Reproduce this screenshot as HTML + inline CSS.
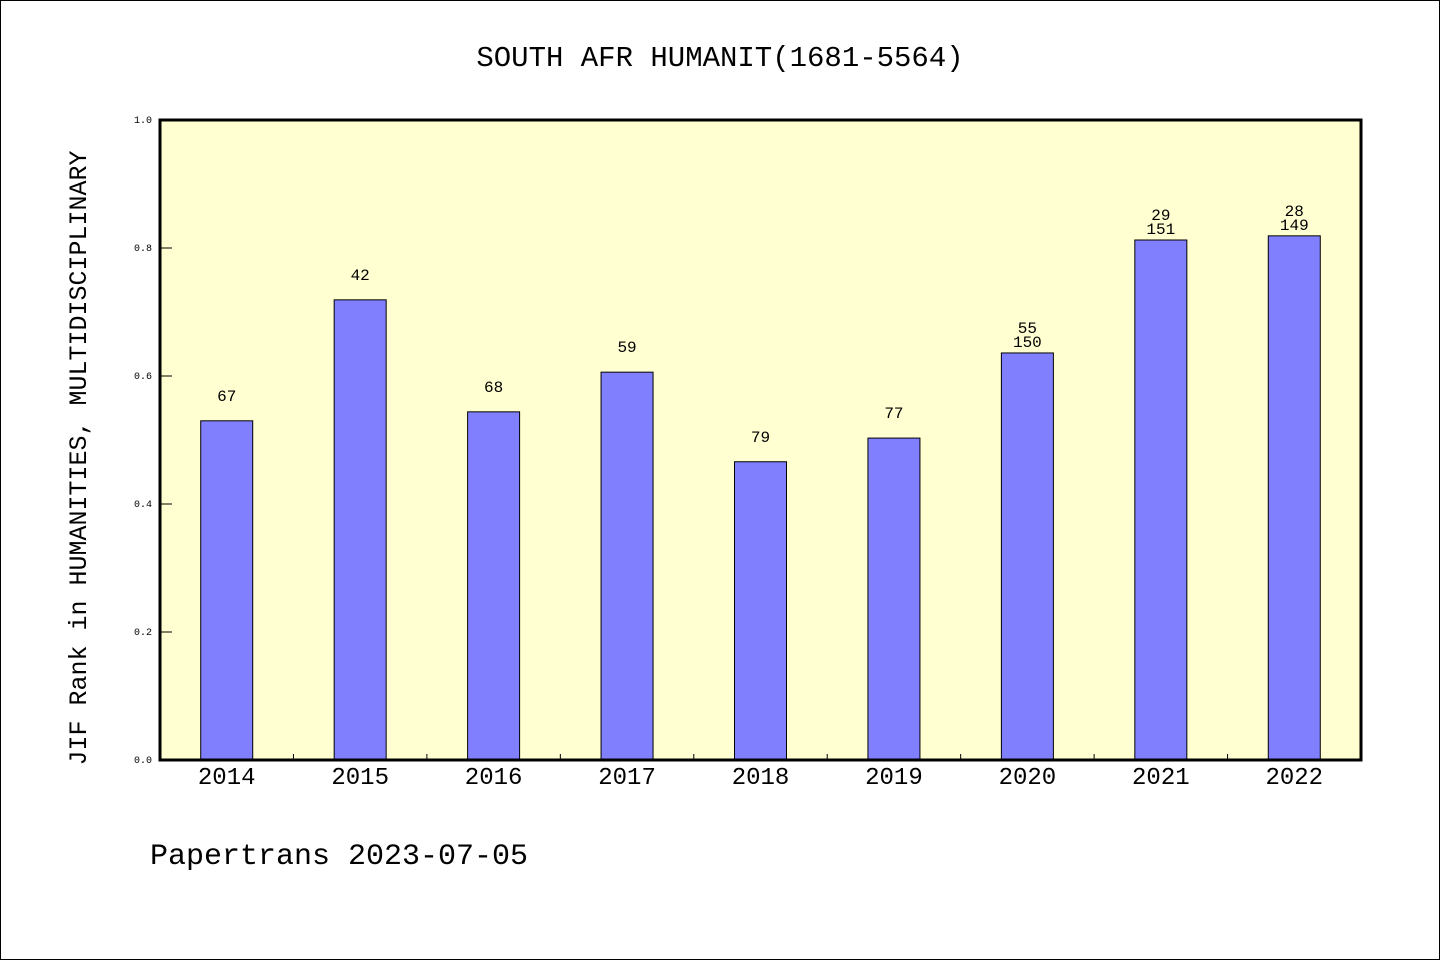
<!DOCTYPE html>
<html><head><meta charset="utf-8"><style>
html,body{margin:0;padding:0;background:#fff}
svg{display:block;font-family:"WenQuanYi Zen Hei Mono","Liberation Mono",monospace}
</style></head><body>
<svg id="c" width="1440" height="960">
<rect x="0.5" y="0.5" width="1439" height="959" fill="#fff" stroke="#000"/>
<text x="720" y="66" font-size="29" text-anchor="middle">SOUTH AFR HUMANIT(1681-5564)</text>
<text transform="translate(86,458) rotate(-90)" font-size="25" text-anchor="middle">JIF Rank in HUMANITIES, MULTIDISCIPLINARY</text>
<text x="150" y="864" font-size="30">Papertrans 2023-07-05</text>
<rect x="160" y="120" width="1201" height="640" fill="#ffffd2"/>
<g id="marks"></g>
<rect x="160" y="120" width="1201" height="640" fill="none" stroke="#000" stroke-width="3"/>
</svg>
<script>
const categories=["2014","2015","2016","2017","2018","2019","2020","2021","2022"];
const values=[0.53,0.719,0.544,0.606,0.466,0.503,0.636,0.8125,0.819];
const ranks=["67","42","68","59","79","77","55","29","28"];
const totals=["","","","","","","150","151","149"];
const yTicks=[0,0.2,0.4,0.6,0.8,1.0];
const yTickLabels=["0.0","0.2","0.4","0.6","0.8","1.0"];

const L=160,T=120,W=1201,H=640,ns="http://www.w3.org/2000/svg";
const g=document.getElementById('marks');
const y=v=>T+H-v/1*H;
const step=W/categories.length;
const x=i=>L+step*(i+0.5);
function el(t,a,txt){const e=document.createElementNS(ns,t);for(const k in a)e.setAttribute(k,a[k]);if(txt!=null)e.textContent=txt;g.appendChild(e);return e;}
yTicks.forEach((v,i)=>{
  const t=el('line',{x1:L,x2:L+12,y1:y(v),y2:y(v),stroke:'#000','stroke-width':1});
  
  
  const l=el('text',{x:L-8,y:y(v)+3,'font-size':10,'text-anchor':'end'},yTickLabels[i]);
  
  
});
categories.forEach((c,i)=>{
  if(i>0){const t=el('line',{x1:L+step*i,x2:L+step*i,y1:T+H,y2:T+H-6,stroke:'#000'});
  
  }
  const b=el('rect',{x:x(i)-26,y:y(values[i]),width:52,height:T+H-y(values[i]),fill:'#8080ff',stroke:'#000','stroke-width':1});
  
  
  const xl=el('text',{x:x(i),y:T+H+24,'font-size':24,'text-anchor':'middle'},c);
  
  
  if(totals[i]){
    const a=el('text',{x:x(i),y:y(values[i])-6,'font-size':16,'text-anchor':'middle'},totals[i]);
    
    
  }
  const r=el('text',{x:x(i),y:y(values[i])-20,'font-size':16,'text-anchor':'middle'},ranks[i]);
  
  
});
</script>
</body></html>
